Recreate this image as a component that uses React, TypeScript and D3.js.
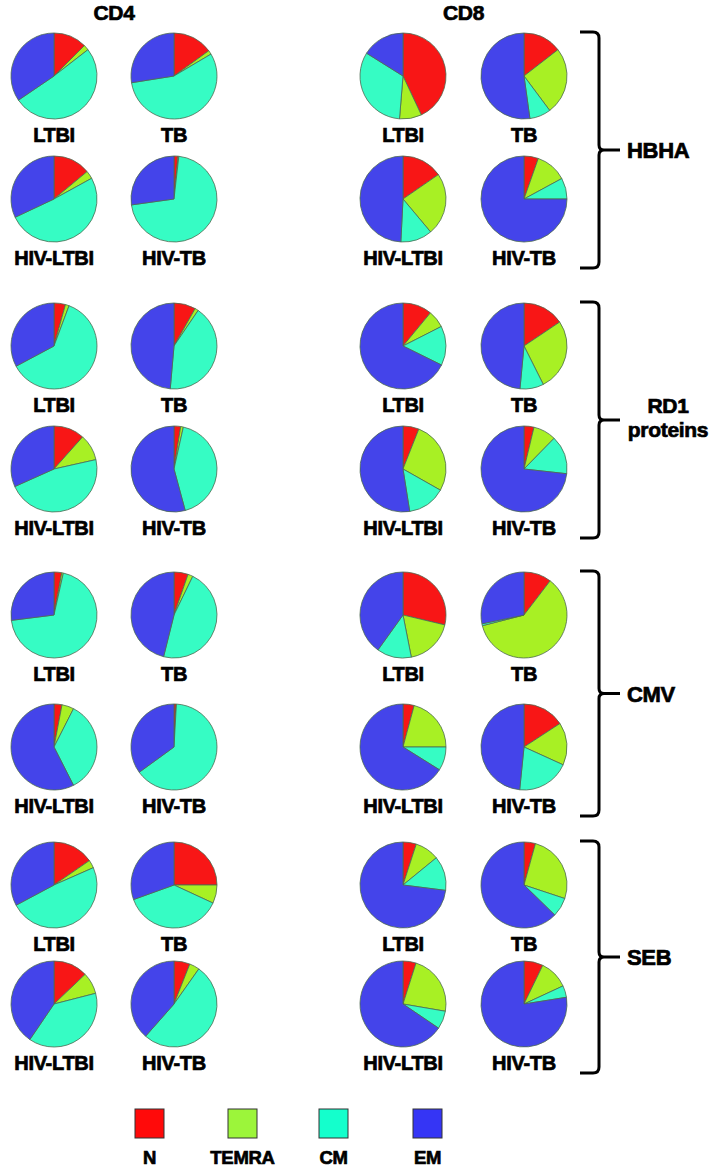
import React from "react";
import * as d3 from "d3";

const cellTypes = ["CD4", "CD8"];
const groups = ["LTBI", "TB", "HIV-LTBI", "HIV-TB"];
const subsets = ["N", "TEMRA", "CM", "EM"];
const stimuli = ["HBHA", "RD1 proteins", "CMV", "SEB"];

// % of responding cells per subset [N, TEMRA, CM, EM], per group [LTBI, TB, HIV-LTBI, HIV-TB]
const hbhaCD4 = [[12.5, 2, 51, 34.5], [15, 1.5, 56, 27.5], [14, 3, 51, 32], [1.5, 0.3, 71, 27.2]];
const hbhaCD8 = [[43, 8.3, 32.6, 16.1], [14.5, 25.3, 8, 52.2], [15.4, 23.5, 11.9, 49.2], [5.4, 11.7, 7.9, 75]];
const rd1CD4 = [[4.3, 1.4, 61.5, 32.8], [8.2, 1.3, 41.9, 48.6], [11.6, 9.9, 46.8, 31.7], [2.5, 1, 42.3, 54.2]];
const rd1CD8 = [[11, 6.5, 14.8, 67.7], [15.6, 27, 8.9, 48.5], [6, 27.2, 14.3, 52.5], [3.75, 8.6, 14.4, 73.25]];
const cmvCD4 = [[2.9, 0.6, 69.5, 27], [5.3, 1.9, 46.7, 46.1], [3, 4.5, 35, 57.5], [0.9, 0, 64.1, 35]];
const cmvCD8 = [[28.7, 18.2, 13, 40.1], [10.4, 60.6, 0.7, 28.3], [4.2, 20.8, 8.9, 66.1], [15.8, 16, 19.8, 48.4]];
const sebCD4 = [[15.4, 3, 48.8, 32.8], [25, 6.9, 37.6, 30.5], [12.9, 8.1, 38.5, 40.5], [6, 3.8, 51.7, 38.5]];
const sebCD8 = [[5, 9.1, 12.9, 73], [4.3, 25.8, 7.2, 62.7], [4.9, 22.8, 6.8, 65.5], [7.2, 10.9, 4.4, 77.5]];

const dataByStim = [
  [hbhaCD4, hbhaCD8],
  [rd1CD4, rd1CD8],
  [cmvCD4, cmvCD8],
  [sebCD4, sebCD8],
];

const pieColors = ["#f81616", "#a8f024", "#36fcc4", "#4444ea"];
const legendColors = ["#ff0a0a", "#9cf53a", "#14ffcc", "#3535f5"];

// layout
const W = 721;
const H = 1169;
const R = 43;
const colX = [[54, 174], [403, 524]];
const rowTop = [76, 346, 615, 885];
const rowBottom = [199, 469, 747, 1004];
const legendPos = [149.5, 242.5, 333.5, 427.5];
const FONT = "'Liberation Sans', Arial, Helvetica, sans-serif";

export default function App() {
  const pie = d3.pie<number>().sort(null).value((d) => d);
  const arc = d3.arc<d3.PieArcDatum<number>>().innerRadius(0).outerRadius(R);

  const textStyle = { fontFamily: FONT, fontWeight: 700, fill: "#000", stroke: "#000", strokeWidth: 0.7, letterSpacing: "-0.3px" } as const;

  return (
    <svg width={W} height={H} style={{ position: "absolute", left: 0, top: 0, background: "#fff" }}>
      <rect x={0} y={0} width={W} height={H} fill="#fff" />
      {cellTypes.map((c, ci) => (
        <text key={c} x={(colX[ci][0] + colX[ci][1]) / 2} y={20} textAnchor="middle" fontSize={21} style={textStyle}>
          {c}
        </text>
      ))}
      {stimuli.map((s, si) => {
        const top = rowTop[si] - 44;
        const bottom = rowBottom[si] + 69;
        const mid = (top + bottom) / 2;
        const bx = 599;
        const path = `M580,${top} H593 Q${bx},${top} ${bx},${top + 6} V${mid - 5} Q${bx},${mid} ${bx + 5},${mid} H620 M${bx + 5},${mid} Q${bx},${mid} ${bx},${mid + 5} V${bottom - 6} Q${bx},${bottom} 593,${bottom} H580`;
        const lines = s === "RD1 proteins" ? ["RD1", "proteins"] : [s];
        return (
          <g key={s}>
            {cellTypes.map((c, ci) =>
              groups.map((g, gi) => {
                const cx = colX[ci][gi % 2];
                const cy = gi < 2 ? rowTop[si] : rowBottom[si];
                const arcs = pie(dataByStim[si][ci][gi]);
                return (
                  <g key={c + g}>
                    <g transform={`translate(${cx},${cy})`}>
                      {arcs.map((a, ai) => (
                        <path key={ai} d={arc(a) || ""} fill={pieColors[ai]} stroke="#4d6a50" strokeWidth={0.8} />
                      ))}
                    </g>
                    <text x={cx} y={cy + 66} textAnchor="middle" fontSize={20} style={textStyle}>
                      {g}
                    </text>
                  </g>
                );
              })
            )}
            <path d={path} fill="none" stroke="#000" strokeWidth={3} />
            {lines.length === 1 ? (
              <text x={627} y={mid + 8} fontSize={22} style={textStyle}>
                {s}
              </text>
            ) : (
              lines.map((l, li) => (
                <text key={l} x={668} y={mid - 7 + li * 24} textAnchor="middle" fontSize={21} style={textStyle}>
                  {l}
                </text>
              ))
            )}
          </g>
        );
      })}
      {subsets.map((s, i) => (
        <g key={s}>
          <rect x={legendPos[i] - 14.5} y={1109} width={29} height={29} fill={legendColors[i]} stroke="#333" strokeWidth={1} />
          <text x={legendPos[i]} y={1164} textAnchor="middle" fontSize={18.5} style={textStyle}>
            {s}
          </text>
        </g>
      ))}
    </svg>
  );
}
